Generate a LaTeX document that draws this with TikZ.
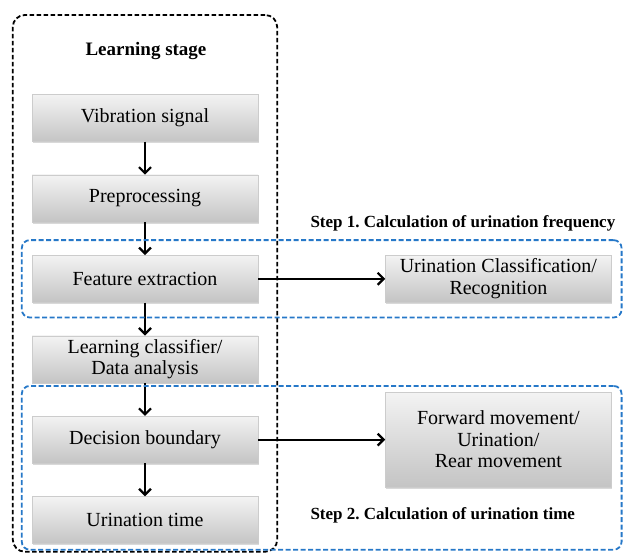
\documentclass[tikz,border=0pt]{standalone}
\usepackage{fontspec}
\setmainfont{Liberation Serif}
\usetikzlibrary{positioning,fit,shadows,arrows.meta}

\definecolor{boxtop}{RGB}{243,243,243}
\definecolor{boxbot}{RGB}{196,196,196}
\definecolor{stepblue}{RGB}{38,120,200}

\tikzset{
  stage/.style={draw=gray!40, top color=boxtop, bottom color=boxbot,
    minimum width=226pt, minimum height=47pt, align=center,
    font=\fontsize{20}{21.5}\selectfont,
    drop shadow={shadow xshift=0.6pt, shadow yshift=-1.6pt, opacity=0.3}},
  flow/.style={-{Straight Barb[length=6pt,width=12pt]}, line width=2.2pt},
  learnbox/.style={draw, dash pattern=on 4.5pt off 2.5pt, line width=1.8pt,
    rounded corners=12pt},
  stepbox/.style={draw=stepblue, dash pattern=on 5pt off 2.5pt,
    line width=1.8pt, rounded corners=8pt},
  steplabel/.style={anchor=west, font=\fontsize{17}{19}\selectfont\bfseries},
}

\begin{document}
\frenchspacing
\begin{tikzpicture}[x=1pt, y=-1pt]

    \useasboundingbox (0,0) rectangle (625,558);

    % Define nodes
    \node[font=\fontsize{19}{21}\selectfont\bfseries] (title) at (146,51) {Learning stage};
    \node[stage]                       (vib) at (145,118) {Vibration signal};
    \node[stage, below=33pt of vib]    (pre) {Preprocessing};
    \node[stage, below=33pt of pre]   (feat) {Feature extraction};
    \node[stage, below=33pt of feat] (learn) {Learning classifier/\\Data analysis};
    \node[stage, below=33pt of learn]  (dec) {Decision boundary};
    \node[stage, below=33pt of dec]   (time) {Urination time};

    \node[stage, minimum height=40pt, right=127pt of feat] (cls) {Urination Classification/\\Recognition};
    \node[stage, minimum height=95pt, right=127pt of dec]  (fwd) {Forward movement/\\Urination/\\Rear movement};

    \node[steplabel] (step1) at (307,223) {Step 1. Calculation of urination frequency};
    \node[steplabel] (step2) at (307,515) {Step 2. Calculation of urination time};

    % Connect the nodes
    \draw[flow] (vib) -- (pre);
    \draw[flow] (pre) -- (feat);
    \draw[flow] (feat) -- (learn);
    \draw[flow] (learn) -- (dec);
    \draw[flow] (dec) -- (time);
    \draw[flow] (feat) -- (cls);
    \draw[flow] (dec) -- (fwd);

    % Stages
    \coordinate (stagetop) at (145,23);
    \node[learnbox, fit=(stagetop)(vib)(time), inner xsep=19pt, inner ysep=8pt] (learning) {};
    \node[stepbox, fit=(feat)(cls), inner xsep=10pt, inner ysep=15pt] (freq) {};
    \node[stepbox, fit=(dec)(time)(fwd), inner xsep=10pt, inner ysep=6pt] (dur) {};

\end{tikzpicture}
\end{document}
